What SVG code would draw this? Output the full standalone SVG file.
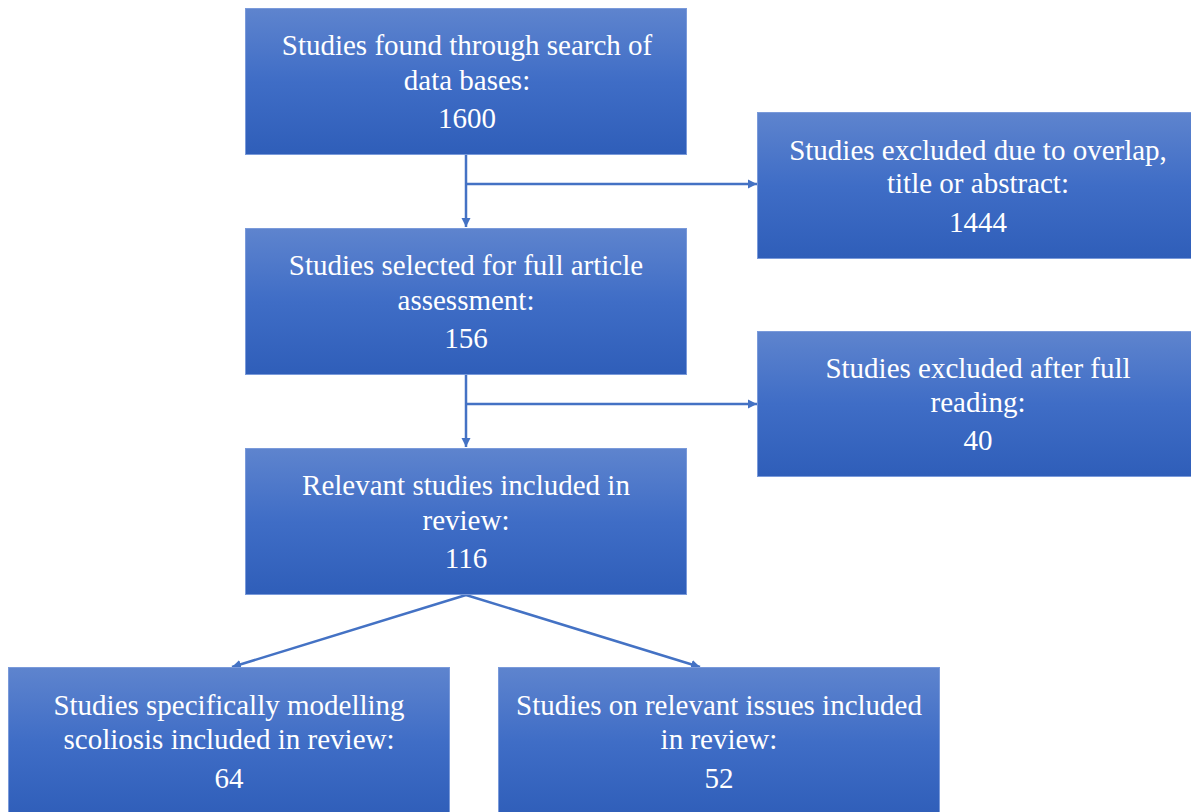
<svg xmlns="http://www.w3.org/2000/svg" width="1191" height="812" viewBox="0 0 1191 812">
<defs>
<linearGradient id="g" x1="0" y1="0" x2="0" y2="1">
<stop offset="0" stop-color="#5E84CE"/>
<stop offset="0.5" stop-color="#3F6DC6"/>
<stop offset="1" stop-color="#2F5EB9"/>
</linearGradient>
<marker id="ah" markerWidth="12" markerHeight="12" refX="9" refY="5" orient="auto" markerUnits="userSpaceOnUse">
<path d="M0,0.5 L9,5 L0,9.5 Z" fill="#4472C4"/>
</marker>
<style>
.box{fill:url(#g);stroke:#7A9ADA;stroke-width:1}
.t{font-family:"Liberation Serif","Times New Roman",serif;font-size:29px;fill:#FFFFFF;text-anchor:middle}
.c{stroke:#4472C4;stroke-width:2.5;fill:none}
</style>
</defs>
<rect width="1191" height="812" fill="#FFFFFF"/>
<g id="connectors">
<line class="c" x1="466" y1="154" x2="466" y2="227" marker-end="url(#ah)"/>
<line class="c" x1="466" y1="184" x2="757" y2="184" marker-end="url(#ah)"/>
<line class="c" x1="466" y1="375" x2="466" y2="447" marker-end="url(#ah)"/>
<line class="c" x1="466" y1="404" x2="757" y2="404" marker-end="url(#ah)"/>
<line class="c" x1="466" y1="595" x2="232" y2="667" marker-end="url(#ah)"/>
<line class="c" x1="466" y1="595" x2="700" y2="667" marker-end="url(#ah)"/>
</g>
<g id="n1">
<rect class="box" x="245.5" y="8.5" width="441" height="146"/>
<text class="t" x="467" y="55">Studies found through search of</text>
<text class="t" x="467" y="90">data bases:</text>
<text class="t" x="467" y="128">1600</text>
</g>
<g id="n2">
<rect class="box" x="757.5" y="112.5" width="434" height="146"/>
<text class="t" x="978" y="160">Studies excluded due to overlap,</text>
<text class="t" x="978" y="193">title or abstract:</text>
<text class="t" x="978" y="232">1444</text>
</g>
<g id="n3">
<rect class="box" x="245.5" y="228.5" width="441" height="146"/>
<text class="t" x="466" y="275">Studies selected for full article</text>
<text class="t" x="466" y="310">assessment:</text>
<text class="t" x="466" y="348">156</text>
</g>
<g id="n4">
<rect class="box" x="757.5" y="331.5" width="434" height="145"/>
<text class="t" x="978" y="378">Studies excluded after full</text>
<text class="t" x="978" y="412">reading:</text>
<text class="t" x="978" y="450">40</text>
</g>
<g id="n5">
<rect class="box" x="245.5" y="448.5" width="441" height="146"/>
<text class="t" x="466" y="495">Relevant studies included in</text>
<text class="t" x="466" y="530">review:</text>
<text class="t" x="466" y="568">116</text>
</g>
<g id="n6">
<rect class="box" x="8.5" y="667.5" width="441" height="150"/>
<text class="t" x="229" y="715">Studies specifically modelling</text>
<text class="t" x="229" y="749">scoliosis included in review:</text>
<text class="t" x="229" y="788">64</text>
</g>
<g id="n7">
<rect class="box" x="498.5" y="667.5" width="441" height="150"/>
<text class="t" x="719" y="715">Studies on relevant issues included</text>
<text class="t" x="719" y="749">in review:</text>
<text class="t" x="719" y="788">52</text>
</g>
</svg>
